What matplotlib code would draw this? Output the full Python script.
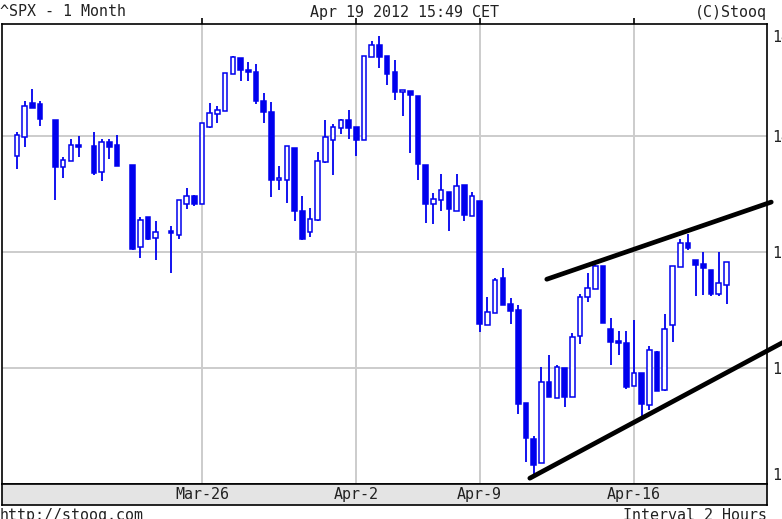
# -*- coding: utf-8 -*-
# SPX 2-hour candles, one month, Stooq style chart
import matplotlib
matplotlib.use("Agg")
import matplotlib.pyplot as plt

# bar slot (2-hour bars counted from the first one shown)
slots = [0, 1, 2, 3, 5, 6, 7, 8, 10, 11, 12, 13, 15, 16, 17, 18,
         20, 21, 22, 23, 24, 25, 26, 27, 28, 29, 30, 31, 32, 33, 34, 35,
         36, 37, 38, 39, 40, 41, 42, 43, 44, 45, 46, 47, 48, 49, 50, 51,
         52, 53, 54, 55, 56, 57, 58, 59, 60, 61, 62, 63, 64, 65, 66, 67,
         68, 69, 70, 71, 72, 73, 74, 75, 76, 77, 78, 79, 80, 81, 82, 83,
         84, 85, 86, 87, 88, 89, 90, 91, 92]
opens = [1406.5, 1409.9, 1415.7, 1415.5, 1412.8, 1404.7, 1405.6, 1408.5,
         1408.2, 1403.7, 1408.9, 1408.4, 1405.0, 1390.8, 1396.0, 1392.4,
         1393.4, 1393.0, 1398.3, 1399.6, 1398.3, 1411.5, 1413.8, 1414.3,
         1420.7, 1423.4, 1421.4, 1421.1, 1416.1, 1414.1, 1402.4, 1402.4,
         1407.9, 1397.0, 1393.4, 1395.5, 1405.5, 1409.3, 1411.4, 1412.8,
         1411.5, 1409.3, 1423.6, 1425.7, 1423.7, 1421.1, 1417.6, 1417.7,
         1416.9, 1405.0, 1398.3, 1399.0, 1400.3, 1397.1, 1401.5, 1396.2,
         1398.8, 1377.4, 1379.4, 1385.5, 1381.0, 1380.0, 1363.9, 1357.7,
         1353.6, 1367.5, 1364.8, 1370.0, 1365.0, 1375.5, 1382.3, 1383.7,
         1387.5, 1376.8, 1374.5, 1374.3, 1366.9, 1369.1, 1363.6, 1372.8,
         1366.2, 1377.4, 1387.4, 1391.5, 1388.7, 1387.9, 1386.9, 1382.8,
         1384.3]
highs = [1410.7, 1416.0, 1418.1, 1416.0, 1412.8, 1406.4, 1409.5, 1410.0,
         1410.7, 1409.5, 1409.5, 1410.2, 1405.0, 1396.0, 1396.0, 1395.4,
         1394.5, 1399.0, 1401.0, 1399.8, 1412.2, 1415.7, 1415.2, 1420.8,
         1423.7, 1423.4, 1422.7, 1422.4, 1417.4, 1415.9, 1404.8, 1408.2,
         1407.9, 1399.6, 1397.5, 1407.2, 1412.8, 1412.1, 1413.0, 1414.4,
         1411.5, 1423.8, 1426.3, 1427.3, 1423.7, 1423.1, 1417.8, 1417.7,
         1416.9, 1405.0, 1400.1, 1403.4, 1400.3, 1403.4, 1401.5, 1400.4,
         1398.8, 1382.3, 1385.5, 1387.2, 1382.0, 1380.9, 1363.9, 1358.2,
         1370.2, 1372.2, 1370.5, 1370.0, 1376.1, 1382.8, 1386.3, 1387.8,
         1387.6, 1378.6, 1376.3, 1376.3, 1378.2, 1369.1, 1373.8, 1372.9,
         1379.3, 1387.6, 1392.2, 1393.1, 1388.7, 1390.0, 1386.9, 1390.0,
         1388.2]
lows = [1404.3, 1408.1, 1414.8, 1411.8, 1399.0, 1402.8, 1405.6, 1406.4,
        1403.3, 1402.3, 1406.0, 1404.9, 1390.3, 1388.9, 1392.1, 1388.6,
        1386.3, 1392.2, 1397.4, 1397.9, 1398.3, 1411.4, 1412.2, 1414.3,
        1420.7, 1419.4, 1419.4, 1415.5, 1412.2, 1399.4, 1400.7, 1398.4,
        1395.4, 1392.0, 1392.5, 1395.4, 1405.4, 1403.3, 1410.3, 1409.5,
        1406.6, 1409.3, 1423.6, 1421.7, 1418.8, 1416.2, 1413.5, 1407.0,
        1402.4, 1395.0, 1394.8, 1397.0, 1393.6, 1397.1, 1395.4, 1396.2,
        1376.2, 1377.4, 1379.4, 1380.9, 1377.6, 1362.0, 1353.8, 1351.8,
        1353.6, 1365.0, 1364.8, 1363.2, 1365.0, 1374.1, 1381.4, 1383.7,
        1377.7, 1370.5, 1372.2, 1366.3, 1366.9, 1361.6, 1362.8, 1366.0,
        1366.1, 1374.4, 1387.4, 1390.4, 1382.4, 1382.6, 1382.4, 1382.4,
        1381.0]
closes = [1410.1, 1415.2, 1414.8, 1412.9, 1404.6, 1405.9, 1408.4, 1408.1,
          1403.6, 1409.0, 1408.1, 1404.9, 1390.5, 1395.5, 1392.2, 1393.4,
          1393.2, 1399.0, 1399.6, 1398.3, 1412.2, 1413.9, 1414.4, 1420.8,
          1423.6, 1421.3, 1421.1, 1416.0, 1414.1, 1402.4, 1402.6, 1408.2,
          1397.0, 1392.2, 1395.7, 1405.6, 1409.9, 1411.5, 1412.8, 1411.4,
          1409.3, 1423.7, 1425.7, 1423.6, 1420.7, 1417.5, 1417.7, 1417.1,
          1405.2, 1398.2, 1399.1, 1400.7, 1397.4, 1401.4, 1396.4, 1399.6,
          1377.6, 1379.6, 1385.2, 1380.9, 1379.9, 1363.8, 1357.9, 1353.3,
          1367.5, 1365.0, 1370.1, 1365.0, 1375.3, 1382.3, 1383.8, 1387.5,
          1377.7, 1374.4, 1374.3, 1366.8, 1369.1, 1363.8, 1373.1, 1366.1,
          1376.8, 1387.5, 1391.6, 1390.6, 1387.7, 1387.2, 1382.8, 1384.6,
          1388.2]

# date axis
day_slots = [24, 44, 60, 80]
day_labels = ["Mar-26", "Apr-2", "Apr-9", "Apr-16"]

# price axis
grid_levels = [1370, 1390, 1410]
price_ticks = [1427.3, 1410, 1390, 1370, 1351.8]

# hand drawn channel (slot, price)
upper_x = [68.7, 97.8]
upper_y = [1385.3, 1398.6]
lower_x = [66.5, 100.0]
lower_y = [1351.0, 1374.9]

W, H = 782, 519
blue = "#0000ee"
mono = "DejaVu Sans Mono"
fsize = 10.8


def draw_candles(ax):
    for k, o, h, l, c in zip(slots, opens, highs, lows, closes):
        ax.plot([k, k], [l, h], color=blue, lw=1.3, zorder=3,
                solid_capstyle="butt")
        bottom = min(o, c)
        height = max(abs(c - o), 0.35)
        if c >= o:
            ax.bar(k, height, bottom=bottom, width=0.6, color="white",
                   edgecolor=blue, linewidth=1.1, zorder=4)
        else:
            ax.bar(k, height, bottom=bottom, width=0.6, color=blue,
                   edgecolor=blue, linewidth=1.1, zorder=4)


def main():
    fig = plt.figure(figsize=(W / 100, H / 100), dpi=100)
    ax = fig.add_axes([2 / W, 1 - 484 / H, 765 / W, 460 / H])
    band = fig.add_axes([2 / W, 1 - 505 / H, 765 / W, 21 / H])

    xlim = (-1.93, 97.25)
    ax.set_xlim(*xlim)
    ax.set_ylim(1350, 1429.3)

    # grid
    for g in grid_levels:
        ax.axhline(g, color="#cccccc", lw=1.4, zorder=1)
    for d in day_slots:
        ax.axvline(d, color="#cccccc", lw=1.4, zorder=1)

    draw_candles(ax)

    # channel lines
    ax.plot(upper_x, upper_y, color="black", lw=3.4, zorder=6,
            solid_capstyle="round", clip_on=False)
    ax.plot(lower_x, lower_y, color="black", lw=3.4, zorder=6,
            solid_capstyle="round", clip_on=False)

    ax.set_xticks(day_slots)
    ax.tick_params(axis="x", bottom=False, labelbottom=False, top=True,
                   direction="out", length=4, width=1.2, color="black")
    ax.yaxis.tick_right()
    ax.set_yticks(price_ticks)
    ax.set_yticklabels(["%.1f" % p for p in price_ticks])
    ax.tick_params(axis="y", length=0, pad=4, labelsize=fsize,
                   labelcolor="#222222")
    for lab in ax.get_yticklabels():
        lab.set_family(mono)
    for sp in ax.spines.values():
        sp.set_color("black")
        sp.set_linewidth(1.2)

    # date band
    band.set_xlim(*xlim)
    band.set_ylim(0, 1)
    band.set_facecolor("#e4e4e4")
    band.set_xticks([])
    band.set_yticks([])
    for sp in band.spines.values():
        sp.set_color("black")
        sp.set_linewidth(1.2)
    for d, lab in zip(day_slots, day_labels):
        band.text(d, 0.5, lab, ha="center", va="center", family=mono,
                  fontsize=fsize, color="#222222")

    # header and footer
    fig.text(0 / W, 1 - 12 / H, "^SPX - 1 Month", ha="left", va="center",
             family=mono, fontsize=fsize, color="#222222")
    fig.text(404 / W, 1 - 12 / H, "Apr 19 2012 15:49 CET", ha="center",
             va="center", family=mono, fontsize=fsize, color="#222222")
    fig.text(767 / W, 1 - 12 / H, "(C)Stooq", ha="right", va="center",
             family=mono, fontsize=fsize, color="#222222")
    fig.text(0 / W, 1 - 508 / H, "http://stooq.com", ha="left", va="top",
             family=mono, fontsize=fsize, color="#222222")
    fig.text(767 / W, 1 - 508 / H, "Interval 2 Hours", ha="right",
             va="top", family=mono, fontsize=fsize, color="#222222")

    fig.savefig("out.png", dpi=100)


if __name__ == "__main__":
    main()
